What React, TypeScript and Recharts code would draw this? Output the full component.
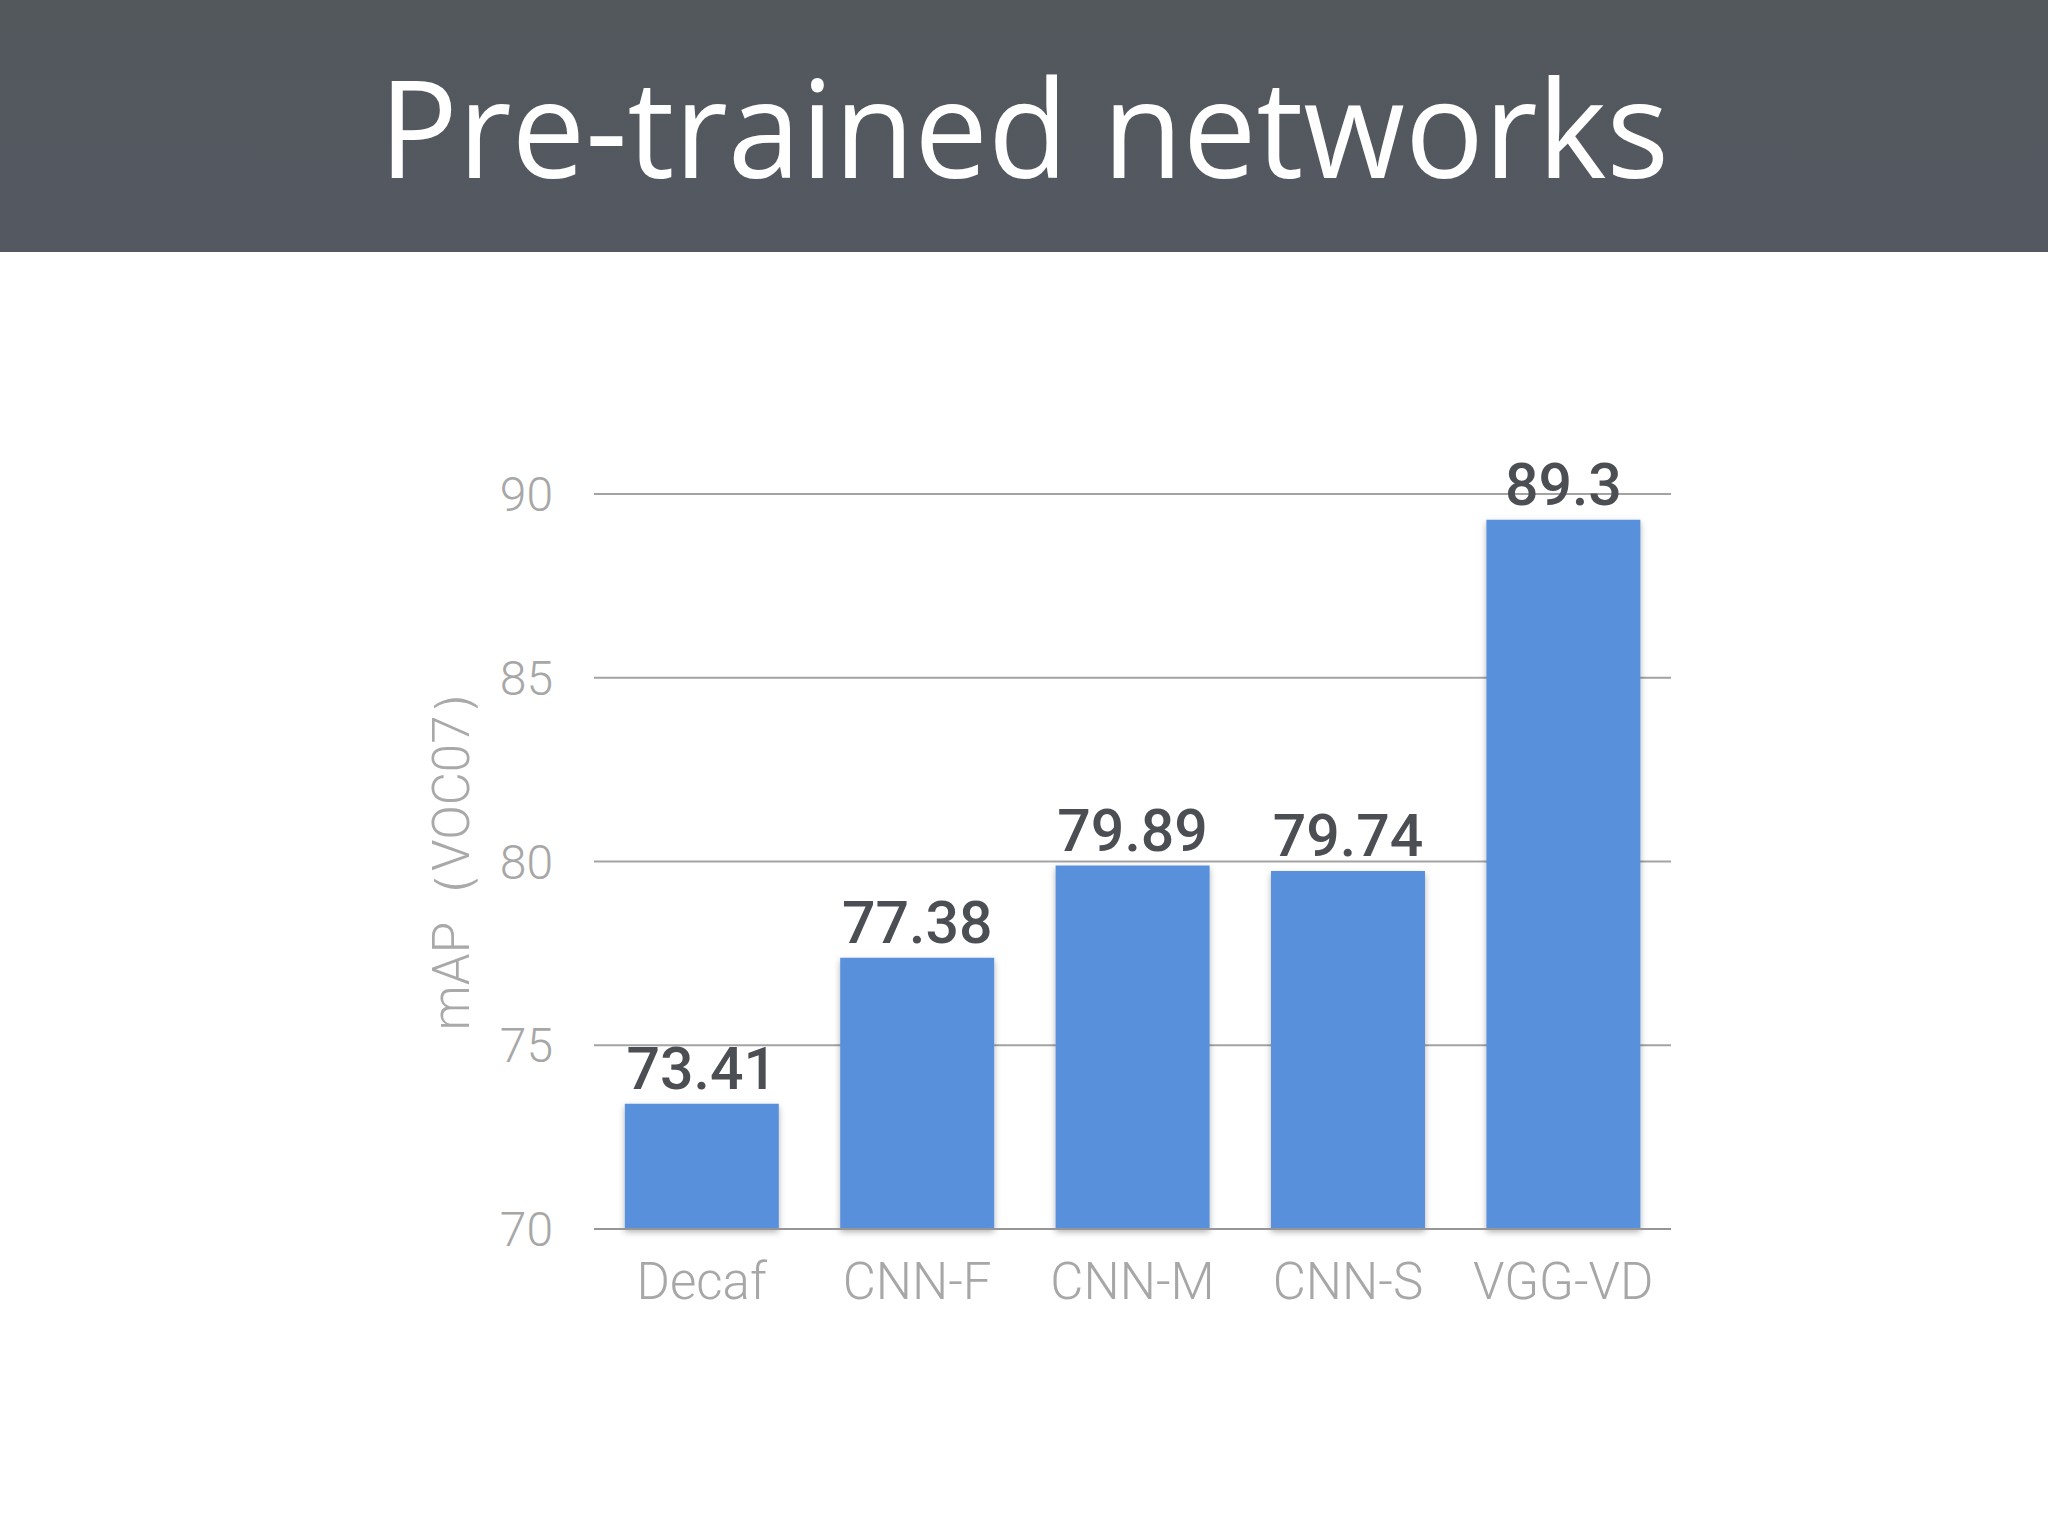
import { BarChart, Bar, XAxis, YAxis, CartesianGrid, LabelList } from 'recharts';

// networks and their mAP on VOC07
const networks = ['Decaf', 'CNN-F', 'CNN-M', 'CNN-S', 'VGG-VD'];
const mapScores = [73.41, 77.38, 79.89, 79.74, 89.3];
const yTicks = [70, 75, 80, 85, 90];

const data = networks.map((name, i) => ({ name, map: mapScores[i] }));

const tickFont = { fontFamily: 'Roboto, sans-serif', fontWeight: 300, fill: '#a7a7a7' };

const App = () => (
  <div style={{ position: 'absolute', left: 0, top: 0, width: 2048, height: 1536, background: '#fff' }}>
    <svg width={2048} height={252} style={{ position: 'absolute', left: 0, top: 0 }}>
      <defs>
        <linearGradient id="band" x1="0" y1="0" x2="0" y2="1">
          <stop offset="0%" stopColor="#53585d" />
          <stop offset="100%" stopColor="#545861" />
        </linearGradient>
      </defs>
      <rect x={0} y={0} width={2048} height={252} fill="url(#band)" />
      <text
        x={1024}
        y={178}
        textAnchor="middle"
        fill="#ffffff"
        fontFamily="'Open Sans', sans-serif"
        fontWeight={400}
        fontSize={136}
        textLength={1290}
        lengthAdjust="spacingAndGlyphs"
      >
        Pre-trained networks
      </text>
    </svg>
    <div style={{ position: 'absolute', left: 0, top: 0 }}>
      <BarChart
        width={2048}
        height={1536}
        data={data}
        margin={{ top: 494, right: 377, left: 308, bottom: 207 }}
        barCategoryGap="14.3%"
      >
        <defs>
          <filter id="barShadow" x="-10%" y="-10%" width="120%" height="120%">
            <feDropShadow dx="0" dy="3" stdDeviation="3" floodColor="#000" floodOpacity="0.3" />
          </filter>
        </defs>
        <CartesianGrid vertical={false} stroke="#a3a3a3" strokeWidth={2} />
        <XAxis
          dataKey="name"
          height={100}
          axisLine={{ stroke: '#969696', strokeWidth: 2 }}
          tickLine={false}
          tickSize={0}
          tickMargin={34}
          tick={{ ...tickFont, fontSize: 51 }}
          interval={0}
        />
        <YAxis
          domain={[70, 90]}
          ticks={yTicks}
          width={286}
          axisLine={false}
          tickLine={false}
          tickSize={0}
          tickMargin={41}
          tick={{ ...tickFont, fontSize: 48 }}
          label={{
            value: 'mAP（VOC07）',
            angle: -90,
            position: 'center',
            dy: -14,
            style: { fontFamily: 'Roboto, sans-serif', fontWeight: 300, fontSize: 51, fill: '#a9a9a9' },
          }}
        />
        <Bar dataKey="map" fill="#5890db" filter="url(#barShadow)" isAnimationActive={false}>
          <LabelList
            dataKey="map"
            position="top"
            offset={15}
            style={{ fontFamily: 'Roboto, sans-serif', fontWeight: 500, fontSize: 59, fill: '#4b4e53' }}
          />
        </Bar>
      </BarChart>
    </div>
  </div>
);

export default App;
